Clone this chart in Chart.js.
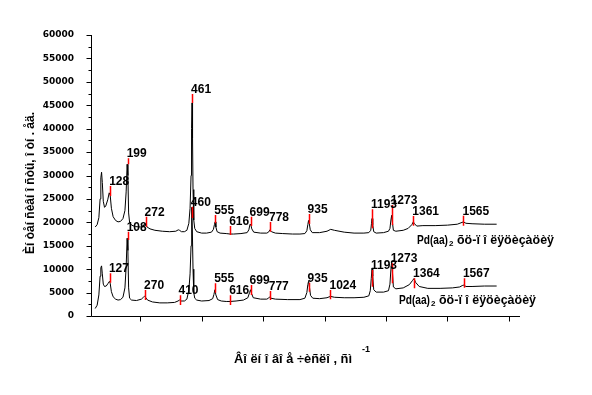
<!DOCTYPE html>
<html>
<head>
<meta charset="utf-8">
<script src="https://cdn.jsdelivr.net/npm/chart.js@4.4.0/dist/chart.umd.min.js"></script>
<style>
  body { margin: 0; background: #fff; }
</style>
</head>
<body>
<canvas id="myChart" width="592" height="395"></canvas>
<script>
// upper spectrum
const upperWn = [67, 75, 82, 87, 90, 93, 96, 100, 105, 110, 118, 124, 128, 133, 140, 150, 160, 170, 180, 188, 193, 197, 200, 203, 207, 215, 230, 250, 262, 268, 272, 278, 290, 310, 340, 370, 395, 405, 410, 418, 430, 440, 448, 453, 457, 459, 461, 463, 465, 468, 472, 480, 500, 520, 540, 548, 552, 555, 558, 563, 575, 600, 616, 630, 660, 685, 692, 697, 700, 704, 712, 740, 765, 772, 778, 784, 800, 830, 870, 900, 920, 928, 932, 935, 938, 942, 950, 980, 1010, 1025, 1040, 1080, 1120, 1160, 1180, 1188, 1191, 1193, 1196, 1200, 1210, 1240, 1260, 1266, 1270, 1273, 1276, 1280, 1290, 1320, 1340, 1355, 1361, 1366, 1375, 1400, 1450, 1500, 1540, 1555, 1565, 1575, 1600, 1650, 1700];
const upperInt = [19000, 19500, 21000, 25000, 29500, 30700, 28500, 24500, 23200, 23500, 24800, 26300, 25800, 23000, 21200, 20400, 20100, 20200, 20800, 22500, 26500, 32400, 30000, 22000, 20000, 19400, 19100, 19000, 19200, 19700, 19600, 19000, 18600, 18300, 18100, 18000, 18100, 18400, 18300, 18000, 18000, 18300, 19800, 23000, 30000, 40000, 45500, 38000, 27000, 20500, 18700, 18000, 17700, 17700, 17900, 18500, 19500, 20100, 19000, 18000, 17700, 17600, 17500, 17500, 17600, 17800, 18400, 19600, 19500, 18600, 17900, 17700, 17700, 17900, 18400, 18000, 17700, 17600, 17500, 17500, 17600, 18200, 19500, 20400, 19700, 18400, 17800, 17800, 18100, 18500, 18300, 17900, 17700, 17700, 17800, 18300, 19800, 20800, 19500, 18000, 17700, 17800, 18100, 18700, 20500, 21500, 20000, 18300, 18100, 18300, 18700, 19500, 20100, 19700, 19200, 19300, 19300, 19400, 19600, 19900, 20100, 19800, 19700, 19600, 19600];

// lower spectrum
const lowerWn = [67, 75, 82, 87, 90, 93, 96, 100, 105, 112, 120, 125, 128, 133, 140, 150, 160, 170, 180, 188, 193, 197, 200, 203, 207, 215, 235, 255, 263, 268, 272, 280, 300, 330, 360, 390, 404, 410, 416, 430, 440, 448, 453, 457, 459, 460, 462, 465, 468, 472, 480, 500, 530, 545, 550, 554, 558, 565, 580, 600, 616, 640, 670, 688, 695, 699, 703, 710, 740, 765, 772, 777, 782, 800, 850, 900, 920, 928, 932, 935, 938, 943, 952, 980, 1010, 1024, 1040, 1080, 1120, 1160, 1180, 1186, 1190, 1193, 1196, 1200, 1210, 1240, 1260, 1266, 1270, 1273, 1276, 1280, 1290, 1320, 1345, 1358, 1364, 1370, 1385, 1420, 1470, 1520, 1550, 1560, 1567, 1575, 1600, 1650, 1700];
const lowerInt = [1600, 2300, 4500, 8500, 10300, 10700, 9000, 6800, 6300, 6400, 7000, 7400, 7000, 5200, 4100, 3600, 3400, 3500, 4000, 6000, 10500, 16600, 14000, 6000, 3800, 3400, 3300, 3600, 4000, 4200, 4000, 3400, 3000, 2800, 2800, 2900, 3200, 3400, 3200, 3200, 3600, 5500, 9000, 15000, 20000, 23200, 19000, 10000, 5000, 3800, 3400, 3200, 3300, 3700, 4600, 5600, 4500, 3500, 3200, 3100, 3100, 3200, 3400, 3900, 5000, 5600, 4800, 3900, 3600, 3600, 3800, 4100, 3800, 3600, 3500, 3500, 3800, 5000, 6700, 7400, 6400, 4400, 3800, 3700, 3900, 4200, 4000, 3900, 3900, 4000, 4300, 5400, 8000, 10200, 8500, 5600, 5100, 5100, 5400, 6800, 10000, 11600, 9500, 6200, 5800, 6000, 6700, 7600, 8000, 7200, 6300, 5900, 5900, 6000, 6200, 6500, 6600, 6300, 6300, 6400, 6400];

// peak markers (red lines + labels)
const upperPeakWn = [128, 199, 272, 461, 555, 616, 699, 778, 935, 1193, 1273, 1361, 1565];
const upperPeakText = ['128', '199', '272', '461', '555', '616', '699', '778', '935', '1193', '1273', '1361', '1565'];
const upperPeakTop = [27760, 33670, 21200, 47400, 21560, 19220, 21200, 20070, 21780, 22780, 23700, 21350, 21410];
const upperPeakBottom = [25620, 32400, 19070, 45480, 19790, 17290, 19220, 18000, 19640, 18720, 19430, 19280, 19280];

const lowerPeakWn = [127, 199, 270, 410, 460, 555, 616, 699, 777, 935, 1024, 1193, 1273, 1364, 1567];
const lowerPeakText = ['127', '108', '270', '410', '460', '555', '616', '699', '777', '935', '1024', '1193', '1273', '1364', '1567'];
const lowerPeakTop = [9120, 18000, 5550, 4420, 23340, 6980, 4420, 6620, 5340, 7110, 5550, 9820, 11250, 8050, 8050];
const lowerPeakBottom = [7110, 16230, 3420, 2350, 20920, 4980, 2350, 4480, 3420, 5190, 3560, 6260, 6980, 5910, 6040];

const seriesNames = ['õö-ï î ëÿöèçàöèÿ', 'õö-ï î ëÿöèçàöèÿ'];
const xTitle = 'Âî ëí î âî å ÷èñëî , ñì';
const yTitle = 'Èí òåí ñèâí î ñòü, î òí . åä.';

const toPoints = (wn, val) => wn.map((w, i) => ({ x: w, y: val[i] }));

const extras = {
  id: 'extras',
  afterDraw(chart) {
    const { ctx, scales: { x, y } } = chart;
    ctx.save();
    ctx.strokeStyle = '#000';
    ctx.lineWidth = 1;
    ctx.beginPath();
    const ax = Math.round(x.left) + 0.5, ay = Math.round(y.bottom) + 0.5;
    ctx.moveTo(ax, y.top);
    ctx.lineTo(ax, ay);
    ctx.lineTo(x.right, ay);
    for (let v = 0; v <= 60000; v += 2500) {
      const py = Math.round(y.getPixelForValue(v)) + 0.5;
      ctx.moveTo(ax - (v % 5000 === 0 ? 5 : 3), py);
      ctx.lineTo(ax, py);
    }
    for (let v = 250; v <= 1750; v += 250) {
      const px = Math.round(x.getPixelForValue(v)) + 0.5;
      ctx.moveTo(px, ay);
      ctx.lineTo(px, ay + 5);
    }
    ctx.stroke();

    const marks = (wn, top, bot, text) => {
      ctx.strokeStyle = '#ff0000';
      ctx.lineWidth = 1.5;
      ctx.beginPath();
      wn.forEach((w, i) => {
        const px = Math.round(x.getPixelForValue(w)) + 0.5;
        ctx.moveTo(px, y.getPixelForValue(top[i]));
        ctx.lineTo(px, y.getPixelForValue(bot[i]));
      });
      ctx.stroke();
      ctx.fillStyle = '#000';
      ctx.font = 'bold 12px "Liberation Sans Narrow", "Liberation Sans", Arial';
      ctx.textAlign = 'left';
      ctx.textBaseline = 'alphabetic';
      wn.forEach((w, i) => {
        ctx.fillText(text[i], x.getPixelForValue(w) - 1, y.getPixelForValue(top[i]) - 1);
      });
    };
    marks(upperPeakWn, upperPeakTop, upperPeakBottom, upperPeakText);
    marks(lowerPeakWn, lowerPeakTop, lowerPeakBottom, lowerPeakText);

    // series captions
    const caption = (left, base, name) => {
      ctx.fillStyle = '#000';
      ctx.textAlign = 'left';
      ctx.font = 'bold 13px "Liberation Sans Narrow", "Liberation Sans", Arial';
      ctx.fillText('Pd(aa)', left, base, 31);
      ctx.font = 'bold 8px "Liberation Sans", Arial';
      ctx.fillText('2', left + 32, base + 2);
      ctx.font = 'bold 13px "Liberation Sans Narrow", "Liberation Sans", Arial';
      ctx.fillText(name, left + 40, base, 97);
    };
    caption(417, 244, seriesNames[0]);
    caption(399, 304, seriesNames[1]);

    // axis titles
    ctx.font = 'bold 13px "Liberation Sans Narrow", "Liberation Sans", Arial';
    ctx.textAlign = 'left';
    ctx.fillText(xTitle, 234, 363, 118);
    ctx.font = 'bold 9px "Liberation Sans", Arial';
    ctx.fillText('-1', 362, 352);

    ctx.translate(34, 183);
    ctx.rotate(-Math.PI / 2);
    ctx.textAlign = 'center';
    ctx.font = 'bold 12px "Liberation Sans Narrow", "Liberation Sans", Arial';
    ctx.fillText(yTitle, 0, 0, 146);
    ctx.restore();
  }
};

const tickFont = { family: '"DejaVu Sans"', size: 9, weight: 'bold' };

const config = {
  type: 'line',
  data: {
    datasets: [
      { data: toPoints(upperWn, upperInt), borderColor: '#000', borderWidth: 1, pointRadius: 0, tension: 0 },
      { data: toPoints(lowerWn, lowerInt), borderColor: '#000', borderWidth: 1, pointRadius: 0, tension: 0 }
    ]
  },
  options: {
    responsive: false,
    animation: false,
    layout: { padding: { top: 35, right: 72, left: 0, bottom: 0 } },
    plugins: { legend: { display: false }, tooltip: { enabled: false } },
    scales: {
      x: {
        type: 'linear',
        min: 50,
        max: 1795,
        grid: { display: false },
        border: { display: false },
        ticks: {
          stepSize: 250,
          autoSkip: false,
          maxRotation: 0,
          padding: 9,
          color: '#000',
          font: tickFont,
          callback: v => (v % 500 === 0 ? String(v) : '')
        },
        afterFit: s => { s.height = 79; }
      },
      y: {
        min: 0,
        max: 60000,
        grid: { display: false },
        border: { display: false },
        ticks: { stepSize: 5000, padding: 9, color: '#000', font: tickFont, callback: v => String(v) },
        afterFit: s => { s.width = 91; }
      }
    }
  },
  plugins: [extras]
};

const myChart = new Chart(document.getElementById('myChart'), config);
</script>
</body>
</html>
